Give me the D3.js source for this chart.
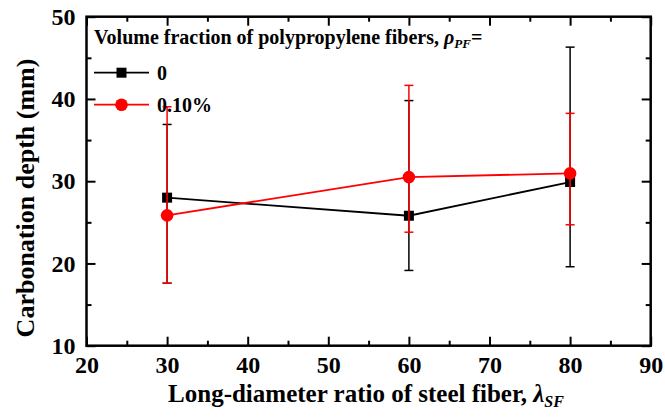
<!DOCTYPE html>
<html>
<head>
<meta charset="utf-8">
<script src="https://cdn.jsdelivr.net/npm/d3@7"></script>
<style>
  body { margin: 0; background: #fff; }
  svg text { font-family: 'Liberation Serif', 'DejaVu Serif', serif !important; font-weight: bold; }
</style>
</head>
<body>
<div id="chart"></div>
<script>
// data
const ratios = [30, 60, 80];
const depth0 = [28.0, 25.8, 29.9];
const low0 = [17.6, 19.15, 19.6];
const high0 = [36.9, 39.8, 46.3];
const depthPP = [25.85, 30.5, 30.95];
const lowPP = [17.6, 23.8, 24.7];
const highPP = [39.05, 41.65, 38.25];
const seriesNames = ["0", "0.10%"];
const xMajor = [20, 30, 40, 50, 60, 70, 80, 90];
const xMinor = [25, 35, 45, 55, 65, 75, 85];
const yMajor = [10, 20, 30, 40, 50];
const yMinor = [15, 25, 35, 45];

function drawChart() {
  const width = 665, height = 417;
  const margin = { left: 86.5, right: 14.3, top: 16.7, bottom: 71.3 };
  const w = width - margin.left - margin.right;
  const h = height - margin.top - margin.bottom;

  const svg = d3.select("#chart").append("svg")
    .attr("width", width)
    .attr("height", height);

  const x = d3.scaleLinear().domain([20, 90]).range([0, w]);
  const y = d3.scaleLinear().domain([10, 50]).range([h, 0]);

  const g = svg.append("g")
    .attr("transform", `translate(${margin.left},${margin.top})`);

  // axes: major ticks with labels, minor ticks without, all pointing inward
  function styleAxis(sel) {
    sel.attr("font-family", null).attr("font-size", null);
    sel.select(".domain").remove();
    sel.selectAll(".tick line").attr("stroke", "#000").attr("stroke-width", 2);
    sel.selectAll(".tick text")
      .attr("fill", "#000")
      .style("font-size", "24px");
  }

  g.append("g").attr("transform", `translate(0,${h})`)
    .call(d3.axisBottom(x).tickValues(xMajor).tickSize(-9).tickPadding(10).tickFormat(d3.format("d")))
    .call(styleAxis);
  g.append("g").attr("transform", `translate(0,${h})`)
    .call(d3.axisBottom(x).tickValues(xMinor).tickSize(-5).tickFormat(""))
    .call(styleAxis);
  g.append("g")
    .call(d3.axisTop(x).tickValues(xMajor).tickSize(-9).tickFormat(""))
    .call(styleAxis);
  g.append("g")
    .call(d3.axisTop(x).tickValues(xMinor).tickSize(-5).tickFormat(""))
    .call(styleAxis);

  g.append("g")
    .call(d3.axisLeft(y).tickValues(yMajor).tickSize(-9).tickPadding(11).tickFormat(d3.format("d")))
    .call(styleAxis);
  g.append("g")
    .call(d3.axisLeft(y).tickValues(yMinor).tickSize(-5).tickFormat(""))
    .call(styleAxis);
  g.append("g").attr("transform", `translate(${w},0)`)
    .call(d3.axisRight(y).tickValues(yMajor).tickSize(-9).tickFormat(""))
    .call(styleAxis);
  g.append("g").attr("transform", `translate(${w},0)`)
    .call(d3.axisRight(y).tickValues(yMinor).tickSize(-5).tickFormat(""))
    .call(styleAxis);

  // frame
  g.append("rect")
    .attr("width", w).attr("height", h)
    .attr("fill", "none").attr("stroke", "#000").attr("stroke-width", 2.5);

  const series = [
    { name: seriesNames[0], color: "#000", shape: "square", vals: depth0, lo: low0, hi: high0 },
    { name: seriesNames[1], color: "#ff0000", shape: "circle", vals: depthPP, lo: lowPP, hi: highPP }
  ];

  const line = d3.line().x(d => x(d.x)).y(d => y(d.y));

  series.forEach(s => {
    const pts = ratios.map((r, i) => ({ x: r, y: s.vals[i], lo: s.lo[i], hi: s.hi[i] }));
    const sg = g.append("g");

    // error bars
    const eb = sg.selectAll(".err").data(pts).enter().append("g");
    eb.append("line")
      .attr("x1", d => x(d.x)).attr("x2", d => x(d.x))
      .attr("y1", d => y(d.lo)).attr("y2", d => y(d.hi))
      .attr("stroke", s.color).attr("stroke-width", 1.5);
    ["lo", "hi"].forEach(k => {
      eb.append("line")
        .attr("x1", d => x(d.x) - 4.5).attr("x2", d => x(d.x) + 4.5)
        .attr("y1", d => y(d[k])).attr("y2", d => y(d[k]))
        .attr("stroke", s.color).attr("stroke-width", 1.5);
    });

    sg.append("path").datum(pts)
      .attr("d", line)
      .attr("fill", "none").attr("stroke", s.color).attr("stroke-width", 1.8);

    if (s.shape === "square") {
      sg.selectAll(".mk").data(pts).enter().append("rect")
        .attr("x", d => x(d.x) - 5).attr("y", d => y(d.y) - 5)
        .attr("width", 10).attr("height", 10)
        .attr("fill", s.color);
    } else {
      sg.selectAll(".mk").data(pts).enter().append("circle")
        .attr("cx", d => x(d.x)).attr("cy", d => y(d.y))
        .attr("r", 6.3).attr("fill", s.color);
    }
  });

  // legend
  const lg = g.append("g").attr("transform", "translate(7.5,0)");
  const title = lg.append("text").attr("x", 0).attr("y", 27).style("font-size", "20px");
  title.append("tspan").text("Volume fraction of polypropylene fibers, ");
  title.append("tspan").attr("font-style", "italic").text("ρ");
  title.append("tspan").attr("font-style", "italic").style("font-size", "13px").attr("dy", 4).text("PF");
  title.append("tspan").attr("dy", -4).text("=");

  series.forEach((s, i) => {
    const ly = 56 + i * 32;
    lg.append("line").attr("x1", 0).attr("x2", 55).attr("y1", ly).attr("y2", ly)
      .attr("stroke", s.color).attr("stroke-width", 1.8);
    if (s.shape === "square") {
      lg.append("rect").attr("x", 22.5).attr("y", ly - 5).attr("width", 10).attr("height", 10).attr("fill", s.color);
    } else {
      lg.append("circle").attr("cx", 27.5).attr("cy", ly).attr("r", 6.3).attr("fill", s.color);
    }
    lg.append("text").attr("x", 63).attr("y", ly + 7).style("font-size", "20px").text(s.name);
  });

  // axis titles
  const xt = svg.append("text")
    .attr("x", 366).attr("y", 402)
    .attr("text-anchor", "middle").style("font-size", "25px");
  xt.append("tspan").text("Long-diameter ratio of steel fiber, ");
  xt.append("tspan").attr("font-style", "italic").text("λ");
  xt.append("tspan").attr("font-style", "italic").style("font-size", "16px").attr("dy", 5).text("SF");

  svg.append("text")
    .attr("transform", "translate(34,198) rotate(-90)")
    .attr("text-anchor", "middle").style("font-size", "26px")
    .text("Carbonation depth (mm)");
}

drawChart();
</script>
</body>
</html>
